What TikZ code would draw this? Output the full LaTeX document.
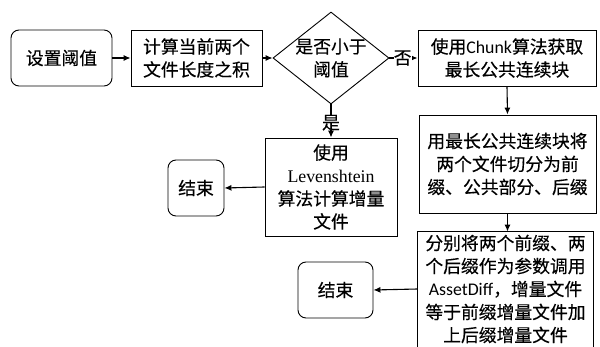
\documentclass[tikz,border=0pt]{standalone}
\usepackage{fontspec}
\setmainfont[FakeBold=0.35]{Noto Sans CJK SC}
\newfontfamily\latinsans{Carlito}
\newfontfamily\latinserif{Liberation Serif}
\usetikzlibrary{shapes.geometric,arrows.meta}
\begin{document}
\begin{tikzpicture}[x=1pt,y=-1pt,
  txt/.style={align=center, font=\fontsize{17.8}{23}\selectfont},
  box/.style={txt, draw, line width=0.9pt, inner sep=0pt},
  term/.style={box, rounded corners=8pt},
  arr/.style={-{Latex[length=7pt,width=6pt]}, line width=1.1pt},
  lbl/.style={txt, fill=white, inner sep=0pt}]
\useasboundingbox (0,0) rectangle (600,347);
\node[term, minimum width=101pt, minimum height=56pt] (start) at (61.5,58) {设置阈值};
\node[box, minimum width=131pt, minimum height=56pt] (calc) at (196.5,58) {计算当前两个\\文件长度之积};
\node[draw, diamond, line width=0.9pt, minimum width=116pt, minimum height=92pt, inner sep=0pt] (dec) at (331,58) {};
\node[txt] (dectext) at (dec.center) {是否小于\\阈值};
\node[box, minimum width=178pt, minimum height=56pt] (chunk) at (507,58) {使用{\latinsans Chunk}算法获取\\最长公共连续块};
\node[box, minimum width=177pt, minimum height=98pt] (split) at (507.5,164) {用最长公共连续块将\\两个文件切分为前\\缀、公共部分、后缀};
\node[box, minimum width=132pt, minimum height=98pt] (lev) at (331,187) {使用\\{\latinserif Levenshtein}\\算法计算增量\\文件};
\node[term, minimum width=56pt, minimum height=56pt] (end1) at (196,188) {结束};
\node[box, draw=none, minimum width=175pt, minimum height=114pt] (diff) at (505.5,289) {分别将两个前缀、两\\个后缀作为参数调用\\{\latinsans AssetDiff}，增量文件\\等于前缀增量文件加\\上后缀增量文件};
\draw[line width=0.9pt] ([yshift=-12pt]diff.south west) -- (diff.north west) -- (diff.north east) -- ([yshift=-12pt]diff.south east);
\node[term, minimum width=75pt, minimum height=56pt] (end2) at (335.5,290) {结束};
\draw[arr] (start) -- (calc);
\draw[arr] (calc.east) -- (dec.west);
\draw[arr] (dec.east) -- node[lbl, pos=0.47] {否} (chunk.west);
\draw[arr] (dec.south) -- node[lbl, pos=0.55] {是} (lev.north);
\draw[arr] (chunk.south) -- (split.north);
\draw[arr] (split.south) -- (split.south |- diff.north);
\draw[arr] (lev.west) -- (end1.east);
\draw[arr] (diff.west) -- (end2.east);
\end{tikzpicture}
\end{document}
